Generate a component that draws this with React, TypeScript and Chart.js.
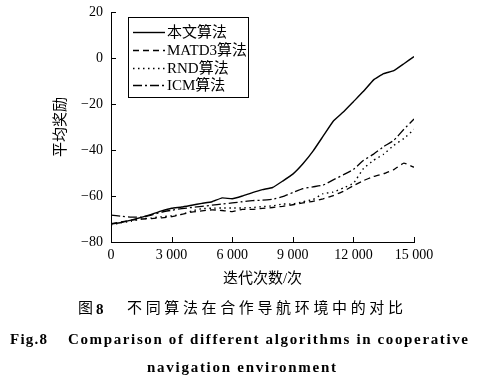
import React, { useEffect, useRef } from "react";
import { Chart, registerables } from "chart.js";

Chart.register(...registerables);

const iterations = [0, 500, 1000, 1500, 2000, 2500, 3000, 3500, 4000, 4500, 5000, 5500, 6000, 6500, 7000, 7500, 8000, 8500, 9000, 9500, 10000, 10500, 11000, 11500, 12000, 12500, 13000, 13500, 14000, 14500, 15000];

const ours = [-72.2, -71.5, -70.5, -69.3, -68, -66.5, -65.3, -64.8, -64, -63.2, -62.5, -60.8, -61.2, -60, -58.5, -57.2, -56.3, -53.5, -50.5, -46, -40.5, -34, -27.5, -23.5, -19, -14.5, -9.5, -6.8, -5.5, -2.5, 0.6];
const matd3 = [-72, -71.3, -70.5, -70, -69.8, -69.5, -69, -68, -67, -66.5, -66, -66.3, -66.8, -65.8, -65.8, -65.4, -65, -64.5, -63.8, -63, -62.3, -61.2, -59.8, -58, -55.5, -53.3, -51.5, -50.3, -48.5, -45.7, -47.5];
const rnd = [-72.6, -71.6, -71, -70, -69.5, -69, -68.6, -68, -66.5, -65.5, -65.3, -65.2, -65.2, -65.2, -65, -64.6, -64.3, -63.5, -63.5, -62.5, -61.5, -59, -58.3, -56.5, -54.5, -48, -44.5, -41.8, -38, -35, -31];
const icm = [-68.3, -68.8, -69.2, -69.2, -68.3, -67, -66.2, -65.5, -65, -64.5, -64, -63.5, -63, -62.5, -62, -61.8, -61.4, -60.3, -58.5, -56.8, -56, -55.3, -53, -50.8, -48.5, -44.5, -41.8, -38.5, -35.8, -31, -26.5];

const seriesNames = ["本文算法", "MATD3算法", "RND算法", "ICM算法"];
const seriesValues = [ours, matd3, rnd, icm];
const seriesDash = [[], [6, 4], [1.5, 3.5], [9, 3, 2, 3]];
const seriesWidth = [1.4, 1.3, 1.4, 1.3];

const yTicks = [-80, -60, -40, -20, 0, 20];
const xTicks = [0, 3000, 6000, 9000, 12000, 15000];

const xTitle = "迭代次数/次";
const yTitle = "平均奖励";
const captionFig = "图";
const captionNum = "8";
const captionCn = "不同算法在合作导航环境中的对比";
const captionEnFig = "Fig.8";
const captionEn1 = "Comparison of different algorithms in cooperative";
const captionEn2 = "navigation environment";

const SERIF = "'Liberation Serif', 'Noto Sans CJK SC', serif";

function fmtX(v: number): string {
  if (v >= 1000) return `${Math.floor(v / 1000)} ${String(v % 1000).padStart(3, "0")}`;
  return String(v);
}
function fmtY(v: number): string {
  return v < 0 ? "\u2212" + Math.abs(v) : String(v);
}

function drawFit(ctx: CanvasRenderingContext2D, text: string, x: number, y: number, width: number) {
  (ctx as any).letterSpacing = "0px";
  const w = ctx.measureText(text).width;
  const n = Math.max(1, text.length - 1);
  const ls = (width - w) / n;
  (ctx as any).letterSpacing = ls.toFixed(2) + "px";
  ctx.fillText(text, x, y);
  (ctx as any).letterSpacing = "0px";
}

const decor = {
  id: "decor",
  afterDraw(chart: any) {
    const { ctx, chartArea: a, scales } = chart;
    const xs = scales.x;
    const ys = scales.y;
    ctx.save();
    ctx.strokeStyle = "#000";
    ctx.lineWidth = 1;
    ctx.setLineDash([]);
    ctx.beginPath();
    ys.ticks.forEach((t: any) => {
      const y = Math.round(ys.getPixelForValue(t.value)) + 0.5;
      ctx.moveTo(a.left, y);
      ctx.lineTo(a.left + 5, y);
    });
    xs.ticks.forEach((t: any) => {
      const x = Math.round(xs.getPixelForValue(t.value)) + 0.5;
      ctx.moveTo(x, a.bottom);
      ctx.lineTo(x, a.bottom - 5);
    });
    ctx.stroke();

    // legend
    const bx = 128.5, by = 17.5, bw = 120, bh = 80;
    ctx.fillStyle = "#fff";
    ctx.fillRect(bx, by, bw, bh);
    ctx.strokeRect(bx, by, bw, bh);
    const rows = [32, 50, 68, 85];
    ctx.font = `15px ${SERIF}`;
    ctx.textBaseline = "middle";
    ctx.textAlign = "left";
    ctx.fillStyle = "#000";
    chart.data.datasets.forEach((ds: any, i: number) => {
      const y = rows[i] + 0.5;
      ctx.beginPath();
      ctx.lineWidth = ds.borderWidth;
      ctx.setLineDash(ds.borderDash || []);
      ctx.moveTo(133, y);
      ctx.lineTo(165, y);
      ctx.stroke();
      ctx.setLineDash([]);
      ctx.fillText(ds.label, 167, rows[i] + 1);
    });

    // axis titles
    ctx.font = `15px ${SERIF}`;
    ctx.textAlign = "center";
    ctx.fillText(xTitle, (a.left + a.right) / 2, 279);
    ctx.save();
    ctx.translate(61, 127);
    ctx.rotate(-Math.PI / 2);
    (ctx as any).letterSpacing = "0px";
    ctx.fillText(yTitle, 0, 0);
    ctx.restore();

    // captions
    ctx.textAlign = "left";
    ctx.font = `15px ${SERIF}`;
    ctx.fillText(captionFig, 78, 309);
    ctx.font = `bold 15px ${SERIF}`;
    ctx.fillText(captionNum, 96, 310);
    ctx.font = `15px ${SERIF}`;
    drawFit(ctx, captionCn, 127, 309, 276);
    ctx.font = `bold 15px ${SERIF}`;
    drawFit(ctx, captionEnFig, 10, 340, 37);
    drawFit(ctx, captionEn1, 68, 340, 400);
    drawFit(ctx, captionEn2, 147, 368, 189);
    ctx.restore();
  },
};

export default function App() {
  const ref = useRef<HTMLCanvasElement | null>(null);
  useEffect(() => {
    document.body.style.margin = "0";
    const canvas = ref.current!;
    const datasets = seriesNames.map((name, i) => ({
      label: name,
      data: iterations.map((x, j) => ({ x, y: seriesValues[i][j] })),
      borderColor: "#000",
      backgroundColor: "#000",
      borderWidth: seriesWidth[i],
      borderDash: seriesDash[i],
      pointRadius: 0,
      tension: 0.1,
      fill: false,
    }));
    const chart = new Chart(canvas, {
      type: "line",
      data: { datasets },
      options: {
        animation: false,
        responsive: false,
        devicePixelRatio: 1,
        layout: { padding: { top: 12, right: 77, left: 0, bottom: 0 } },
        plugins: { legend: { display: false }, tooltip: { enabled: false } },
        scales: {
          x: {
            type: "linear",
            min: 0,
            max: 15000,
            afterBuildTicks: (s: any) => { s.ticks = xTicks.map((v) => ({ value: v })); },
            afterFit: (s: any) => { s.height = 141; s.paddingLeft = 0; s.paddingRight = 0; },
            grid: { display: false, drawTicks: false },
            border: { display: true, color: "#000", width: 1 },
            ticks: {
              padding: 5,
              color: "#000",
              font: { family: SERIF, size: 14 },
              maxRotation: 0,
              callback: (v: any) => fmtX(Number(v)),
            },
          },
          y: {
            type: "linear",
            min: -80,
            max: 20,
            afterBuildTicks: (s: any) => { s.ticks = yTicks.map((v) => ({ value: v })); },
            afterFit: (s: any) => { s.width = 111; s.paddingTop = 0; s.paddingBottom = 0; },
            grid: { display: false, drawTicks: false },
            border: { display: true, color: "#000", width: 1 },
            ticks: {
              padding: 8,
              color: "#000",
              font: { family: SERIF, size: 14 },
              callback: (v: any) => fmtY(Number(v)),
            },
          },
        },
      },
      plugins: [decor],
    } as any);
    return () => chart.destroy();
  }, []);
  return (
    <div style={{ width: 491, height: 383, background: "#fff" }}>
      <canvas ref={ref} width={491} height={383} style={{ display: "block" }} />
    </div>
  );
}
